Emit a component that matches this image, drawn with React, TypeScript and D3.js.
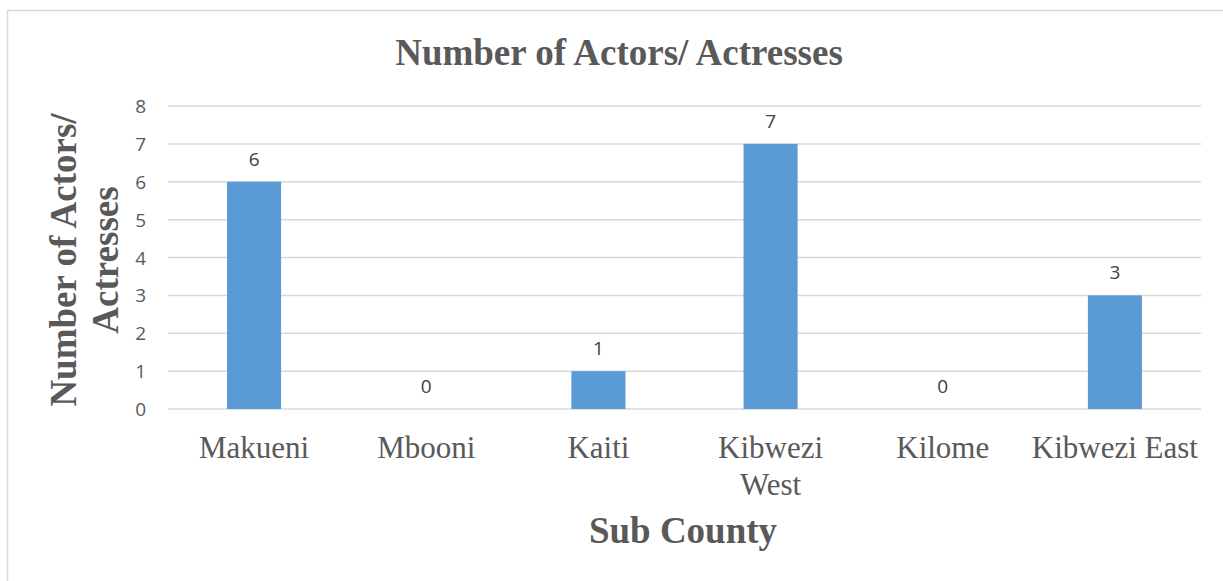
import React from "react";
import * as d3 from "d3";

const categories: string[][] = [
  ["Makueni"],
  ["Mbooni"],
  ["Kaiti"],
  ["Kibwezi", "West"],
  ["Kilome"],
  ["Kibwezi East"],
];
const values: number[] = [6, 0, 1, 7, 0, 3];
const yTicks: number[] = [0, 1, 2, 3, 4, 5, 6, 7, 8];
const title = "Number of Actors/ Actresses";
const yTitle = ["Number of Actors/", "Actresses"];
const xTitle = "Sub County";

const W = 1223;
const H = 581;
const left = 168;
const right = 1201;
const top = 106;
const bottom = 409;

export default function App() {
  const keys = categories.map((c) => c.join(" "));
  const x = d3.scaleBand<string>().domain(keys).range([left, right]).paddingInner(0.686).paddingOuter(0.343);
  const y = d3.scaleLinear().domain([0, 8]).range([bottom, top]);
  const serif = "'Liberation Serif', 'Times New Roman', serif";
  const sans = "'Open Sans', 'Noto Sans', sans-serif";
  const textColor = "#595959";
  return (
    <svg width={W} height={H} style={{ position: "absolute", left: 0, top: 0, background: "#fff" }}>
      <rect x={7.5} y={10.5} width={W + 10} height={H + 10} fill="#fff" stroke="#D9D9D9" strokeWidth={1.5} />
      <text x={619} y={65} textAnchor="middle" fontFamily={serif} fontWeight="bold" fontSize={37} fill={textColor}>
        {title}
      </text>
      {yTicks.map((t) => (
        <g key={t}>
          <line x1={left} x2={right} y1={y(t)} y2={y(t)} stroke="#D9D9D9" strokeWidth={1.5} />
          <text x={146} y={y(t) + 7} textAnchor="end" fontFamily={sans} fontSize={19} fill={textColor}>
            {t}
          </text>
        </g>
      ))}
      {values.map((v, i) => {
        const k = keys[i];
        const cx = (x(k) ?? 0) + x.bandwidth() / 2;
        return (
          <g key={k}>
            {v > 0 && (
              <rect x={x(k)} y={y(v)} width={x.bandwidth()} height={y(0) - y(v)} fill="#5B9BD5" />
            )}
            <text x={cx} y={y(v) - 16} textAnchor="middle" fontFamily={sans} fontSize={19} fill="#404040">
              {v}
            </text>
            {categories[i].map((line, j) => (
              <text key={j} x={cx} y={458 + j * 37} textAnchor="middle" fontFamily={serif} fontSize={31} fill={textColor}>
                {line}
              </text>
            ))}
          </g>
        );
      })}
      <text x={683} y={543} textAnchor="middle" fontFamily={serif} fontWeight="bold" fontSize={37} fill={textColor}>
        {xTitle}
      </text>
      {yTitle.map((line, j) => (
        <text
          key={j}
          transform={`translate(${76 + j * 42}, 260) rotate(-90)`}
          textAnchor="middle"
          fontFamily={serif}
          fontWeight="bold"
          fontSize={37}
          fill={textColor}
        >
          {line}
        </text>
      ))}
    </svg>
  );
}
